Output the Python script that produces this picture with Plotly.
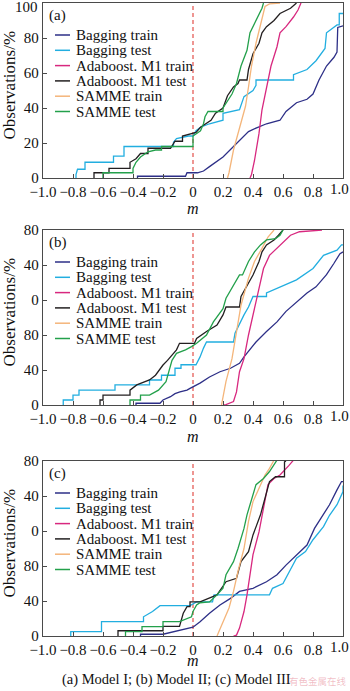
import plotly.graph_objects as go

# ---------------- data (m = margin, obs = cumulative observations) ----------------
series_names = ["Bagging train", "Bagging test", "Adaboost. M1 train",
                "Adaboost. M1 test", "SAMME train", "SAMME test"]
panel_labels = ["(a)", "(b)", "(c)"]
x_tick_vals = [-1.0, -0.8, -0.6, -0.4, -0.2, 0.0, 0.2, 0.4, 0.6, 0.8, 1.0]
x_tick_text = ["\u22121.0", "\u22120.8", "\u22120.6", "\u22120.4", "\u22120.2", "0",
               "0.2", "0.4", "0.6", "0.8", "1.0"]
ya_tick_vals = [0, 20, 40, 60, 80, 100]
ya_tick_text = ["0", "20", "40", "60", "80", "100"]
ybc_tick_vals = [0, 40, 80, 120, 160, 200]
ybc_tick_text = ["0", "40", "80", "0", "40", "80"]
caption = "(a) Model I; (b) Model II; (c) Model III"
watermark = "有色金属在线"

# Panel (a)
a_bag_train_m = [-0.37, -0.37, -0.05, -0.04, 0.03, 0.07, 0.11, 0.2, 0.27, 0.34, 0.37, 0.42, 0.49,
                 0.58, 0.62, 0.69, 0.76, 0.8, 0.84, 0.89, 0.94, 0.96, 0.965, 1.0]
a_bag_train_obs = [0, 1, 1, 3, 3, 4, 6.5, 12, 18, 24, 26.5, 28.5, 31,
                   33, 38, 43, 45, 48, 56, 64, 69, 72, 86, 87]
a_bag_test_m = [-0.78, -0.78, -0.77, -0.72, -0.72, -0.53, -0.53, -0.46, -0.46, -0.13, -0.13, -0.11,
                -0.03, 0.0, 0.02, 0.05, 0.11, 0.2, 0.2, 0.31, 0.34, 0.4, 0.42, 0.42, 0.67, 0.67,
                0.76, 0.82, 0.88, 0.89, 0.96, 0.975, 0.975, 1.0]
a_bag_test_obs = [0, 2, 5, 5, 9, 9, 12.5, 12.5, 18, 18, 20.5, 22.5,
                  24, 24, 27, 29, 31, 33, 37, 39, 46.5, 50, 53, 56, 56, 59,
                  62, 67, 74, 83, 87.5, 87.5, 94, 94]
a_ada_train_m = [0.38, 0.39, 0.41, 0.44, 0.46, 0.49, 0.52, 0.56, 0.58, 0.62, 0.67, 0.7, 0.72]
a_ada_train_obs = [0, 2, 10, 25.5, 39, 52, 64, 75, 83, 86.5, 92, 96, 100]
a_ada_test_m = [-0.66, -0.66, -0.56, -0.56, -0.42, -0.42, -0.38, -0.35, -0.3, -0.3, -0.15, -0.12,
                -0.07, -0.07, 0.02, 0.05, 0.12, 0.15, 0.2, 0.23, 0.27, 0.3, 0.31, 0.36, 0.37,
                0.4, 0.44, 0.46, 0.49, 0.54, 0.58, 0.65, 0.69]
a_ada_test_obs = [0, 3, 3, 5.5, 5.5, 9, 11, 14, 14, 17, 17, 21,
                  21, 24, 26, 29, 33, 37, 40, 47, 52, 54, 56, 56, 62,
                  71, 77, 83, 86.5, 90, 94, 97, 100]
a_samme_train_m = [0.23, 0.24, 0.27, 0.31, 0.35, 0.37, 0.39, 0.42, 0.46, 0.48, 0.51, 0.58]
a_samme_train_obs = [0, 3, 16, 29, 41, 52, 64, 77, 90, 98, 99.5, 100]
a_samme_test_m = [-0.6, -0.6, -0.4, -0.4, -0.38, -0.35, -0.3, -0.25, -0.21, -0.21, 0.0, 0.0,
                  0.05, 0.07, 0.08, 0.1, 0.2, 0.2, 0.26, 0.29, 0.32, 0.36, 0.38, 0.42, 0.46, 0.47]
a_samme_test_obs = [0, 3, 3, 5.5, 9, 12, 15, 16, 16, 18, 18, 24,
                    27, 31, 35, 38, 38, 40, 48, 54, 64, 73, 83, 90, 97, 100]

# Panel (b)
b_bag_train_m = [-0.38, -0.38, -0.22, -0.2, -0.15, -0.12, -0.087, -0.04, -0.02, 0.047, 0.11, 0.18,
                 0.25, 0.31, 0.34, 0.38, 0.42, 0.49, 0.56, 0.62, 0.69, 0.76, 0.82, 0.89, 0.94,
                 0.98, 1.0]
b_bag_train_obs = [0, 2, 2, 5.7, 9.5, 13, 15, 17, 19, 25, 32, 38,
                   42, 47.6, 55, 63, 72, 84, 95, 107, 118, 128, 135, 149, 162,
                   173, 175]
b_bag_test_m = [-0.865, -0.865, -0.8, -0.8, -0.76, -0.76, -0.52, -0.52, -0.29, -0.29, -0.21, -0.21,
                -0.12, -0.12, -0.08, -0.08, 0.02, 0.047, 0.07, 0.09, 0.27, 0.28, 0.34, 0.37,
                0.4, 0.49, 0.49, 0.58, 0.69, 0.8, 0.87, 0.96, 0.99, 1.0]
b_bag_test_obs = [0, 5.7, 5.7, 11.4, 11.4, 17, 17, 23, 23, 28.6, 28.6, 34,
                  34, 42, 42, 46, 46, 55, 65, 72, 72, 82, 103, 112,
                  124, 124, 128, 135, 143, 156, 171, 177, 183, 183]
b_ada_train_m = [0.2, 0.22, 0.27, 0.29, 0.31, 0.34, 0.37, 0.4, 0.44, 0.47, 0.51, 0.58, 0.65, 0.71,
                 0.86]
b_ada_train_obs = [0, 0.5, 4, 15, 38, 53, 80, 103, 130, 156, 171, 183, 194, 198, 200]
b_ada_test_m = [-0.62, -0.62, -0.6, -0.6, -0.42, -0.42, -0.375, -0.29, -0.25, -0.2, -0.17, -0.14,
                -0.11, -0.09, 0.01, 0.024, 0.09, 0.16, 0.2, 0.22, 0.31, 0.32, 0.36, 0.4, 0.44,
                0.46, 0.49, 0.54, 0.57, 0.6]
b_ada_test_obs = [0, 5.7, 5.7, 11.4, 11.4, 17, 23, 28.6, 34, 45.7, 51, 57,
                  63, 70.5, 70.5, 76, 84, 91.4, 103, 112, 112, 124, 137, 148.6, 164,
                  175, 183, 188.6, 194, 200]
b_samme_train_m = [0.19, 0.22, 0.26, 0.29, 0.32, 0.37, 0.41, 0.46, 0.5, 0.54]
b_samme_train_obs = [0, 27, 53, 84, 114, 145, 164, 179, 192, 200]
b_samme_test_m = [-0.42, -0.42, -0.35, -0.35, -0.29, -0.23, -0.18, -0.14, -0.11, -0.05, -0.01,
                  0.024, 0.09, 0.136, 0.2, 0.22, 0.31, 0.33, 0.37, 0.41, 0.45, 0.49, 0.55, 0.58,
                  0.6]
b_samme_test_obs = [0, 5.7, 5.7, 11.4, 11.4, 17, 26.7, 51, 59, 63, 66.7,
                    70.5, 80, 95, 110, 122, 148.6, 148.6, 164, 175, 183, 188.6, 190, 194,
                    200]

# Panel (c)
c_bag_train_m = [-0.35, -0.35, -0.2, -0.15, -0.065, 0.0, 0.047, 0.11, 0.18, 0.25, 0.31, 0.4, 0.49,
                 0.56, 0.62, 0.69, 0.76, 0.81, 0.87, 0.91, 0.96, 0.99, 1.0]
c_bag_train_obs = [0, 2, 2, 4, 7, 10, 16.4, 26, 35.5, 43, 51, 54.5, 62,
                   70, 81, 93, 104, 123, 138.5, 150, 167, 176.5, 176.5]
c_bag_test_m = [-0.815, -0.815, -0.61, -0.61, -0.33, -0.33, -0.27, -0.22, -0.02, 0.024, 0.13, 0.14,
                0.51, 0.53, 0.6, 0.65, 0.69, 0.75, 0.8, 0.87, 0.91, 0.96, 0.99, 1.0, 1.0]
c_bag_test_obs = [0, 5, 5, 16.4, 16.4, 22, 28, 34.7, 34.7, 39, 39, 47,
                  47, 54.5, 60, 77, 89, 96.4, 110, 125, 138, 150, 160, 165, 172]
c_ada_train_m = [0.27, 0.29, 0.31, 0.34, 0.36, 0.38, 0.4, 0.44, 0.46, 0.48, 0.5, 0.54, 0.58, 0.64,
                 0.67]
c_ada_train_obs = [0, 1, 9, 28, 47, 70, 93, 119, 138.5, 157, 173, 180, 184, 195, 201]
c_ada_test_m = [-0.5, -0.5, -0.2, -0.2, -0.09, -0.08, -0.065, -0.04, -0.02, -0.02, 0.047, 0.16,
                0.22, 0.29, 0.32, 0.37, 0.4, 0.45, 0.48, 0.51, 0.55, 0.61, 0.61, 0.62]
c_ada_test_obs = [0, 6, 6, 11, 11, 18, 26, 33.5, 33.5, 39, 39, 47,
                  62, 66, 85, 96.4, 115.5, 138.5, 157, 176.5, 182, 182, 199, 200]
c_samme_train_m = [0.16, 0.2, 0.24, 0.27, 0.3, 0.34, 0.37, 0.4, 0.44, 0.48, 0.51, 0.54]
c_samme_train_obs = [0, 16, 32, 51, 74, 100, 131, 153.6, 169, 184, 191.6, 201]
c_samme_test_m = [-0.45, -0.45, -0.34, -0.34, -0.2, -0.2, -0.09, -0.01, 0.0, 0.024, 0.047, 0.11,
                  0.16, 0.2, 0.22, 0.27, 0.3, 0.34, 0.36, 0.39, 0.42, 0.47, 0.51, 0.56]
c_samme_test_obs = [0, 5, 5, 10.7, 10.7, 16.4, 16.4, 22, 28, 35.5, 38, 39,
                    47, 54.5, 70, 85, 100, 123, 138.5, 157, 173, 180, 188, 201]

panel_data = [
    [(a_bag_train_m, a_bag_train_obs), (a_bag_test_m, a_bag_test_obs),
     (a_ada_train_m, a_ada_train_obs), (a_ada_test_m, a_ada_test_obs),
     (a_samme_train_m, a_samme_train_obs), (a_samme_test_m, a_samme_test_obs)],
    [(b_bag_train_m, b_bag_train_obs), (b_bag_test_m, b_bag_test_obs),
     (b_ada_train_m, b_ada_train_obs), (b_ada_test_m, b_ada_test_obs),
     (b_samme_train_m, b_samme_train_obs), (b_samme_test_m, b_samme_test_obs)],
    [(c_bag_train_m, c_bag_train_obs), (c_bag_test_m, c_bag_test_obs),
     (c_ada_train_m, c_ada_train_obs), (c_ada_test_m, c_ada_test_obs),
     (c_samme_train_m, c_samme_train_obs), (c_samme_test_m, c_samme_test_obs)],
]

# ---------------- style ----------------
W, H = 350, 691
colors = ["#2d2f87", "#22aee0", "#d8287f", "#231f20", "#f4b57a", "#23a04b"]
FONT = "Liberation Serif, Times New Roman, serif"
AX_COLOR = "#4a4a4a"
TICK_FONT = dict(family=FONT, size=15, color="#111")

def px(x):
    return x / W

def py(y):
    return 1 - y / H

plot_left, plot_right = 43, 343
panel_tops = [3, 230, 461]
panel_h = 175

fig = go.Figure()
annotations = []
shapes = []

for p in range(3):
    sfx = "" if p == 0 else str(p + 1)
    xa, ya = "x" + sfx, "y" + sfx
    for s, (mx, oy) in enumerate(panel_data[p]):
        fig.add_trace(go.Scatter(x=mx, y=oy, mode="lines", xaxis=xa, yaxis=ya,
                                 line=dict(color=colors[s], width=1.3),
                                 name=series_names[s], showlegend=False,
                                 hoverinfo="skip"))
    top = panel_tops[p]
    bottom = top + panel_h
    dom_y = [py(bottom), py(top)]
    # labels at the very page edge are written as texts placed just inside the page
    shown_x_text = x_tick_text[:-1] + [""]
    if p == 0:
        y_vals, y_text = ya_tick_vals, ya_tick_text[:-1] + [""]
    else:
        y_vals, y_text = ybc_tick_vals, ybc_tick_text
    fig.update_layout(**{
        "xaxis" + sfx: dict(domain=[px(plot_left), px(plot_right)], range=[-1, 1],
                            anchor=ya, tickvals=x_tick_vals, ticktext=shown_x_text,
                            tickangle=0, automargin=False,
                            ticks="inside", ticklen=4, tickwidth=1, tickcolor=AX_COLOR,
                            showline=True, linecolor=AX_COLOR, linewidth=1.3, mirror=True,
                            showgrid=False, zeroline=False, tickfont=TICK_FONT),
        "yaxis" + sfx: dict(domain=dom_y,
                            range=[0, 100] if p == 0 else [0, 200],
                            anchor=xa, automargin=False,
                            tickvals=y_vals, ticktext=y_text, tickangle=0,
                            ticks="inside", ticklen=4, tickwidth=1, tickcolor=AX_COLOR,
                            showline=True, linecolor=AX_COLOR, linewidth=1.3, mirror=True,
                            showgrid=False, zeroline=False, tickfont=TICK_FONT),
    })
    annotations.append(dict(text=x_tick_text[-1], x=px(339), y=py(bottom + 11),
                            xref="paper", yref="paper", xanchor="center", yanchor="middle",
                            showarrow=False, font=TICK_FONT))
    if p == 0:
        annotations.append(dict(text=ya_tick_text[-1], x=px(39), y=1.0,
                                xref="paper", yref="paper", xanchor="right",
                                yanchor="top", borderpad=0, yshift=2,
                                showarrow=False, font=TICK_FONT))
    # red dashed line at m = 0
    shapes.append(dict(type="line", xref=xa, yref=ya + " domain", x0=0, x1=0, y0=0, y1=1,
                       line=dict(color="#e0403a", width=1.1, dash="4px,3px"), layer="below"))
    # panel label
    annotations.append(dict(text=panel_labels[p], x=px(47), y=py(top + 12), xref="paper",
                            yref="paper", xanchor="left", yanchor="middle", showarrow=False,
                            font=dict(family=FONT, size=15, color="#111")))
    # legend (drawn inside the plot)
    for s in range(6):
        ly = top + 32 + 15.3 * s
        shapes.append(dict(type="line", xref="paper", yref="paper", x0=px(55), x1=px(70),
                           y0=py(ly), y1=py(ly), line=dict(color=colors[s], width=1.5)))
        annotations.append(dict(text=series_names[s], x=px(74), y=py(ly), xref="paper",
                                yref="paper", xanchor="left", yanchor="middle",
                                showarrow=False,
                                font=dict(family=FONT, size=15, color="#111")))
    # y title
    annotations.append(dict(text="Observations/%", x=px(9), y=py(top + panel_h / 2 - 5),
                            xref="paper", yref="paper", xanchor="center", yanchor="middle",
                            textangle=-90, showarrow=False,
                            font=dict(family=FONT, size=17, color="#111")))

# x titles
for ymx in [209, 436, 660]:
    annotations.append(dict(text="<i>m</i>", x=px(193), y=py(ymx), xref="paper", yref="paper",
                            xanchor="center", yanchor="middle", showarrow=False,
                            font=dict(family=FONT, size=16, color="#111")))

annotations.append(dict(text=caption, x=px(176), y=py(679), xref="paper", yref="paper",
                        xanchor="center", yanchor="middle", showarrow=False,
                        font=dict(family=FONT, size=14.5, color="#111")))
annotations.append(dict(text=watermark, x=px(349), y=py(681), xref="paper", yref="paper",
                        xanchor="right", yanchor="middle", showarrow=False,
                        font=dict(family="Noto Sans CJK SC", size=9.5,
                                  color="rgba(225,110,130,0.45)")))

fig.update_layout(width=W, height=H, margin=dict(l=0, r=0, t=0, b=0, autoexpand=False),
                  paper_bgcolor="white", plot_bgcolor="white",
                  annotations=annotations, shapes=shapes, showlegend=False)

fig.write_html("out.html")
